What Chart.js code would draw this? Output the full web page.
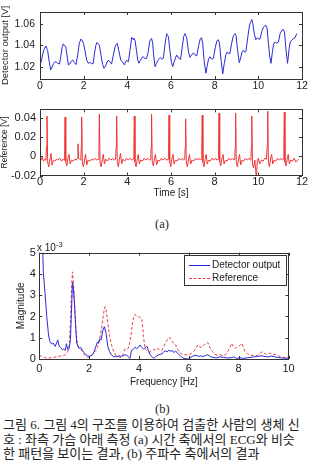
<!DOCTYPE html>
<html>
<head>
<meta charset="utf-8">
<script src="https://cdn.jsdelivr.net/npm/chart.js@4/dist/chart.umd.min.js"></script>
<style>
  html, body { margin:0; padding:0; background:#fff; }
  body { width:310px; height:465px; position:relative; overflow:hidden; font-family:"Liberation Sans", Arial, sans-serif; color:#222; }
  canvas { position:absolute; left:0; }
  .t { position:absolute; white-space:nowrap; }
  .serif { font-family:"Liberation Serif", "Noto Sans CJK KR", serif; }
  .cap { position:absolute; left:3px; white-space:nowrap; font-family:"Liberation Serif", "Noto Sans CJK KR", serif; font-size:13px; line-height:14.5px; color:#222; }
  #legend { position:absolute; left:184px; top:255px; width:101px; height:29px; border:1px solid #333; background:#fff; }
  #legend .row { position:absolute; left:0; height:12px; font-size:10px; line-height:12px; }
  #legend .ln { position:absolute; left:4px; width:21px; top:6px; height:0; }
  #legend .lbl { position:absolute; left:27px; top:0; white-space:nowrap; }
</style>
</head>
<body>
<canvas id="c1" width="310" height="100" style="top:0px"></canvas>
<canvas id="c2" width="310" height="100" style="top:100px"></canvas>
<canvas id="c3" width="310" height="150" style="top:240px"></canvas>

<div class="t serif" style="left:155px; top:217px; font-size:12.5px;">(a)</div>
<div class="t" style="left:37px; top:240px; font-size:10px;">x 10<sup style="font-size:7.5px; vertical-align:4px;">-3</sup></div>

<div id="legend">
  <div class="row" style="top:3px; width:100%;"><div class="ln" style="border-top:1px solid #2a2ad6;"></div><div class="lbl">Detector output</div></div>
  <div class="row" style="top:16px; width:100%;"><div class="ln" style="border-top:1px dashed #e8404a;"></div><div class="lbl">Reference</div></div>
</div>

<div class="t serif" style="left:155px; top:402px; font-size:12.5px;">(b)</div>
<div class="cap" style="top:418px;">그림 6. 그림 4의 구조를 이용하여 검출한 사람의 생체 신</div>
<div class="cap" style="top:432.5px;">호 : 좌측 가슴 아래 측정 (a) 시간 축에서의 ECG와 비슷</div>
<div class="cap" style="top:447px;">한 패턴을 보이는 결과, (b) 주파수 축에서의 결과</div>

<script>
// ---------- (a) top: detector output vs time ----------
const detTime = [0.00,0.06,0.12,0.18,0.24,0.27,0.31,0.35,0.42,0.49,0.55,0.62,0.69,0.76,0.83,0.89,0.95,1.01,1.07,1.12,1.18,1.24,1.30,1.36,1.43,1.50,1.57,1.65,1.72,1.80,1.88,1.94,1.99,2.06,2.14,2.21,2.30,2.37,2.44,2.50,2.56,2.60,2.66,2.72,2.80,2.87,2.93,3.00,3.07,3.13,3.20,3.28,3.35,3.44,3.50,3.54,3.60,3.66,3.70,3.78,3.85,3.89,3.96,4.05,4.12,4.20,4.26,4.30,4.35,4.42,4.48,4.53,4.60,4.67,4.73,4.80,4.88,4.95,5.03,5.11,5.16,5.21,5.27,5.33,5.42,5.50,5.58,5.65,5.72,5.80,5.85,5.88,5.95,6.02,6.08,6.15,6.22,6.26,6.35,6.44,6.52,6.58,6.64,6.68,6.72,6.80,6.87,6.95,7.02,7.10,7.18,7.27,7.34,7.40,7.45,7.52,7.60,7.66,7.72,7.79,7.86,7.94,8.03,8.10,8.17,8.22,8.30,8.37,8.44,8.51,8.58,8.64,8.70,8.78,8.86,8.93,8.98,9.05,9.13,9.20,9.26,9.31,9.38,9.43,9.52,9.60,9.66,9.70,9.75,9.82,9.89,9.96,10.02,10.08,10.16,10.24,10.30,10.35,10.40,10.46,10.52,10.58,10.64,10.70,10.76,10.84,10.92,11.00,11.08,11.14,11.20,11.27,11.34,11.40,11.46,11.53,11.60,11.68,11.76];
const detOut = [1.0216,1.0250,1.0310,1.0360,1.0385,1.0393,1.0370,1.0350,1.0250,1.0170,1.0195,1.0230,1.0247,1.0240,1.0230,1.0225,1.0290,1.0380,1.0413,1.0395,1.0386,1.0300,1.0216,1.0225,1.0250,1.0262,1.0240,1.0220,1.0300,1.0420,1.0458,1.0440,1.0418,1.0350,1.0260,1.0232,1.0240,1.0225,1.0232,1.0330,1.0400,1.0424,1.0415,1.0400,1.0300,1.0220,1.0185,1.0205,1.0240,1.0262,1.0245,1.0225,1.0300,1.0386,1.0410,1.0418,1.0360,1.0300,1.0262,1.0245,1.0220,1.0232,1.0260,1.0247,1.0350,1.0473,1.0455,1.0465,1.0448,1.0350,1.0260,1.0232,1.0260,1.0285,1.0293,1.0275,1.0278,1.0330,1.0440,1.0463,1.0420,1.0300,1.0200,1.0230,1.0265,1.0285,1.0270,1.0277,1.0400,1.0508,1.0490,1.0480,1.0350,1.0240,1.0200,1.0250,1.0290,1.0308,1.0280,1.0268,1.0390,1.0480,1.0508,1.0490,1.0470,1.0340,1.0287,1.0310,1.0329,1.0310,1.0300,1.0400,1.0460,1.0470,1.0420,1.0250,1.0139,1.0210,1.0270,1.0292,1.0270,1.0277,1.0380,1.0440,1.0452,1.0420,1.0250,1.0133,1.0230,1.0310,1.0338,1.0320,1.0324,1.0420,1.0490,1.0508,1.0490,1.0350,1.0237,1.0290,1.0340,1.0354,1.0335,1.0340,1.0480,1.0590,1.0620,1.0640,1.0600,1.0500,1.0452,1.0470,1.0455,1.0460,1.0530,1.0570,1.0580,1.0584,1.0560,1.0420,1.0300,1.0231,1.0330,1.0410,1.0430,1.0420,1.0430,1.0510,1.0540,1.0547,1.0520,1.0350,1.0231,1.0350,1.0430,1.0446,1.0460,1.0470,1.0508];
const timeTicks = [0,2,4,6,8,10,12];
const detTicks = [1.02,1.04,1.06];
const detTickLabels = ['1.02','1.04','1.06'];

// ---------- (a) bottom: ECG reference vs time ----------
const ecgTime = [0.00,0.05,0.10,0.16,0.22,0.27,0.30,0.32,0.35,0.40,0.46,0.50,0.55,0.61,0.68,0.75,0.82,0.90,0.98,1.05,1.10,1.13,1.15,1.18,1.23,1.29,1.33,1.38,1.44,1.52,1.60,1.66,1.71,1.74,1.76,1.82,1.87,1.89,1.91,1.94,1.99,2.05,2.09,2.14,2.20,2.28,2.36,2.44,2.52,2.60,2.66,2.70,2.72,2.75,2.80,2.86,2.90,2.95,3.01,3.09,3.17,3.25,3.33,3.40,3.46,3.49,3.51,3.54,3.59,3.65,3.69,3.74,3.80,3.88,3.96,4.04,4.12,4.20,4.27,4.30,4.32,4.35,4.40,4.46,4.50,4.55,4.61,4.69,4.77,4.85,4.93,5.01,5.07,5.09,5.11,5.14,5.19,5.25,5.29,5.34,5.40,5.48,5.56,5.64,5.72,5.80,5.87,5.89,5.91,5.94,5.99,6.05,6.09,6.14,6.20,6.28,6.36,6.44,6.52,6.58,6.63,6.65,6.67,6.70,6.75,6.81,6.85,6.90,6.96,7.04,7.12,7.20,7.28,7.35,7.39,7.41,7.43,7.46,7.51,7.57,7.61,7.66,7.72,7.80,7.88,7.96,8.04,8.11,8.16,8.18,8.20,8.23,8.28,8.34,8.38,8.43,8.49,8.57,8.65,8.73,8.81,8.88,8.92,8.94,8.96,8.99,9.04,9.10,9.14,9.19,9.25,9.33,9.41,9.49,9.57,9.63,9.66,9.68,9.70,9.73,9.78,9.84,9.88,9.91,9.95,10.00,10.06,10.14,10.22,10.30,10.37,10.41,10.43,10.46,10.51,10.57,10.61,10.66,10.72,10.80,10.88,10.96,11.04,11.11,11.15,11.17,11.19,11.22,11.27,11.33,11.37,11.42,11.48,11.56,11.64,11.72,11.80,11.85];
const ecgRef = [-0.002,-0.004,-0.001,-0.005,-0.003,-0.004,0.010,0.042,-0.006,-0.011,-0.002,0.003,-0.009,-0.004,-0.005,-0.003,-0.004,-0.002,-0.005,-0.003,-0.004,0.012,0.041,-0.005,-0.010,-0.001,0.002,-0.008,-0.004,-0.005,-0.003,-0.004,-0.002,0.013,-0.002,-0.003,-0.004,0.010,0.041,-0.007,-0.011,-0.002,0.002,-0.009,-0.004,-0.005,-0.003,-0.004,-0.002,-0.004,-0.003,0.010,0.044,-0.007,-0.011,-0.002,0.002,-0.008,-0.003,-0.005,-0.002,-0.004,-0.002,-0.004,-0.003,0.010,0.042,-0.006,-0.011,-0.001,0.003,-0.008,-0.003,-0.005,-0.002,-0.004,-0.002,-0.004,-0.003,0.010,0.042,-0.006,-0.011,-0.002,0.002,-0.008,-0.004,-0.005,-0.002,-0.004,-0.002,-0.004,-0.003,0.010,0.044,-0.006,-0.010,-0.001,0.002,-0.009,-0.004,-0.005,-0.002,-0.004,-0.002,-0.004,-0.003,0.012,0.043,-0.006,-0.011,-0.001,0.002,-0.008,-0.004,-0.005,-0.002,-0.004,-0.002,-0.004,-0.003,0.010,0.039,-0.006,-0.011,-0.002,0.002,-0.008,-0.004,-0.005,-0.002,-0.004,-0.002,-0.004,-0.003,0.010,0.043,-0.006,-0.011,-0.002,0.002,-0.008,-0.004,-0.005,-0.002,-0.004,-0.002,-0.004,-0.003,0.012,0.045,-0.006,-0.010,-0.001,0.002,-0.008,-0.004,-0.005,-0.002,-0.004,-0.002,-0.004,-0.003,0.010,0.045,-0.006,-0.011,-0.002,0.002,-0.009,-0.004,-0.005,-0.002,-0.004,-0.002,-0.004,-0.003,0.010,0.042,-0.008,-0.012,-0.004,-0.015,-0.022,-0.006,-0.002,-0.008,-0.004,-0.005,-0.002,-0.003,0.012,0.047,-0.006,-0.011,-0.001,0.002,-0.008,-0.004,-0.005,-0.002,-0.004,-0.002,-0.004,-0.003,0.012,0.046,-0.006,-0.010,-0.002,0.002,-0.008,-0.004,-0.005,-0.002,-0.006,-0.004,-0.003];
const ecgTicks = [-0.02,0,0.02,0.04];
const ecgTickLabels = ['-0.02','0','0.02','0.04'];

// ---------- (b) spectra (magnitude in units of 1e-3) ----------
const detFreq = [0.10,0.16,0.23,0.30,0.37,0.43,0.50,0.57,0.64,0.74,0.80,0.85,0.92,0.98,1.04,1.09,1.14,1.19,1.25,1.29,1.33,1.36,1.42,1.50,1.59,1.66,1.73,1.80,1.87,1.94,2.00,2.07,2.14,2.20,2.27,2.33,2.37,2.43,2.48,2.55,2.61,2.68,2.75,2.82,2.89,2.97,3.09,3.20,3.30,3.40,3.50,3.57,3.64,3.70,3.77,3.84,3.91,3.98,4.04,4.11,4.18,4.25,4.32,4.38,4.45,4.52,4.59,4.66,4.72,4.79,4.86,4.93,5.00,5.06,5.13,5.20,5.27,5.34,5.40,5.47,5.54,5.61,5.70,5.81,5.92,6.02,6.10,6.18,6.29,6.40,6.48,6.56,6.66,6.76,6.86,6.96,7.10,7.25,7.40,7.55,7.70,7.80,7.92,8.05,8.20,8.35,8.50,8.60,8.75,8.90,9.05,9.20,9.30,9.45,9.55,9.70,9.85,10.0];
const detMag = [7.0,4.1,3.08,2.0,1.13,0.81,0.70,0.74,0.59,0.90,0.60,0.55,0.45,0.47,0.40,0.72,0.45,0.47,0.91,2.2,3.6,3.4,2.46,0.74,0.50,0.55,0.40,0.30,0.20,0.15,0.12,0.15,0.20,0.35,0.59,0.80,0.74,0.95,0.90,1.36,1.52,1.20,0.59,0.35,0.20,0.12,0.10,0.15,0.12,0.18,0.20,0.10,0.03,0.40,0.45,0.55,0.50,0.55,0.66,0.55,0.47,0.52,0.60,0.40,0.20,0.10,0.03,0.10,0.15,0.20,0.22,0.24,0.35,0.38,0.33,0.42,0.36,0.40,0.30,0.38,0.28,0.20,0.10,0.02,0.01,0.00,0.10,0.15,0.18,0.12,0.15,0.11,0.16,0.20,0.12,0.08,0.05,0.10,0.08,0.05,0.06,0.10,0.03,0.05,0.03,0.06,0.08,0.10,0.12,0.15,0.12,0.10,0.14,0.10,0.08,0.05,0.04,0.03];
const refFreq = [0.00,0.05,0.10,0.20,0.30,0.40,0.50,0.57,0.70,0.85,0.95,1.05,1.12,1.19,1.25,1.29,1.33,1.36,1.39,1.46,1.55,1.66,1.73,1.80,1.87,1.93,2.00,2.07,2.15,2.27,2.35,2.41,2.48,2.55,2.60,2.64,2.68,2.72,2.77,2.82,2.89,2.95,3.02,3.09,3.20,3.30,3.37,3.43,3.50,3.57,3.62,3.67,3.72,3.77,3.84,3.91,3.98,4.05,4.11,4.15,4.18,4.25,4.31,4.38,4.45,4.52,4.60,4.66,4.72,4.80,4.86,4.93,5.00,5.06,5.13,5.18,5.23,5.28,5.34,5.40,5.47,5.54,5.61,5.70,5.81,5.92,6.02,6.10,6.22,6.30,6.36,6.42,6.49,6.56,6.63,6.70,6.76,6.81,6.86,6.95,7.04,7.15,7.25,7.38,7.48,7.58,7.65,7.72,7.78,7.85,7.92,7.99,8.06,8.13,8.20,8.26,8.35,8.47,8.60,8.74,8.84,8.94,9.00,9.08,9.18,9.28,9.38,9.49,9.60,9.69,9.80,9.90,10.00];
const refMag = [0.19,0.15,0.12,0.08,0.03,0.05,0.06,0.08,0.10,0.14,0.16,0.20,0.30,0.47,1.72,3.2,4.1,3.7,3.24,1.36,0.59,0.47,0.35,0.20,0.12,0.08,0.10,0.12,0.25,0.40,0.60,0.90,1.30,1.88,2.30,2.46,2.30,1.99,1.50,1.05,0.70,0.47,0.30,0.14,0.10,0.08,0.25,0.47,0.45,0.50,0.70,1.05,1.50,1.88,2.10,2.00,1.99,1.95,1.90,1.50,1.05,0.47,0.40,0.30,0.35,0.40,0.45,0.42,0.50,0.45,0.40,0.42,0.60,0.75,0.89,0.98,1.02,0.90,0.82,0.70,0.66,0.50,0.31,0.25,0.19,0.20,0.22,0.25,0.38,0.55,0.66,0.60,0.53,0.60,0.69,0.72,0.78,0.65,0.50,0.35,0.22,0.18,0.20,0.16,0.20,0.38,0.55,0.74,0.60,0.50,0.55,0.58,0.65,0.74,0.50,0.34,0.25,0.19,0.15,0.16,0.25,0.34,0.30,0.22,0.25,0.27,0.20,0.22,0.15,0.11,0.08,0.06,0.11];
const freqTicks = [0,2,4,6,8,10];
const magTicks = [0,1,2,3,4,5];

// ---------- helpers ----------
const pts = (xs, ys) => xs.map((x, i) => ({ x: x, y: ys[i] }));
const AXIS = '#333';
const TXT = '#222';
const FONT = '"Liberation Sans", Arial, sans-serif';

const boxTicks = {
  id: 'boxTicks',
  afterDatasetsDraw(chart) {
    const { ctx, chartArea: a, scales: { x, y } } = chart;
    ctx.save();
    ctx.strokeStyle = AXIS;
    ctx.lineWidth = 1;
    ctx.beginPath();
    x.ticks.forEach(t => {
      const p = Math.round(x.getPixelForValue(t.value)) + 0.5;
      ctx.moveTo(p, a.bottom); ctx.lineTo(p, a.bottom - 3);
      ctx.moveTo(p, a.top); ctx.lineTo(p, a.top + 3);
    });
    y.ticks.forEach(t => {
      const p = Math.round(y.getPixelForValue(t.value)) + 0.5;
      ctx.moveTo(a.left, p); ctx.lineTo(a.left + 3, p);
      ctx.moveTo(a.right, p); ctx.lineTo(a.right - 3, p);
    });
    ctx.stroke();
    ctx.strokeRect(Math.round(a.left) + 0.5, Math.round(a.top) + 0.5, Math.round(a.right - a.left), Math.round(a.bottom - a.top));
    ctx.restore();
  }
};

function makeChart(id, cfg) {
  const xs = {
    type: 'linear', min: cfg.xMin, max: cfg.xMax,
    grid: { display: false, drawTicks: false }, border: { display: false },
    ticks: { padding: cfg.xPad, color: TXT, font: { family: FONT, size: cfg.tickSize }, maxRotation: 0, autoSkip: false,
             callback: v => String(v) },
    afterBuildTicks: s => { s.ticks = cfg.xTicks.map(v => ({ value: v })); },
    afterFit: s => { s.height = cfg.xH; s.paddingLeft = 0; s.paddingRight = 0; },
    title: cfg.xTitle ? { display: true, text: cfg.xTitle, color: TXT, font: { family: FONT, size: 10, lineHeight: 1.2 }, padding: { top: 0, bottom: cfg.xTitlePad } } : { display: false }
  };
  const ys = {
    type: 'linear', min: cfg.yMin, max: cfg.yMax,
    grid: { display: false, drawTicks: false }, border: { display: false },
    ticks: { padding: cfg.yPad, color: TXT, font: { family: FONT, size: cfg.tickSize }, autoSkip: false,
             callback: (v, i) => cfg.yLabels ? cfg.yLabels[i] : String(v) },
    afterBuildTicks: s => { s.ticks = cfg.yTicks.map(v => ({ value: v })); },
    afterFit: s => { s.width = cfg.yW; s.paddingTop = 0; s.paddingBottom = 0; },
    title: { display: true, text: cfg.yTitle, color: TXT, font: { family: FONT, size: cfg.yTitleSize, lineHeight: 1 }, padding: { top: cfg.yTitlePad, bottom: 0 } }
  };
  return new Chart(document.getElementById(id), {
    type: 'line',
    data: { datasets: cfg.datasets },
    options: {
      responsive: false, animation: false, devicePixelRatio: 1,
      layout: { padding: cfg.pad },
      plugins: { legend: { display: false }, tooltip: { enabled: false } },
      elements: { point: { radius: 0 }, line: { tension: 0 } },
      scales: { x: xs, y: ys }
    },
    plugins: [boxTicks]
  });
}

// chart 1: detector output
makeChart('c1', {
  xMin: 0, xMax: 12, yMin: 1.0085, yMax: 1.071,
  xTicks: timeTicks, yTicks: detTicks, yLabels: detTickLabels,
  tickSize: 10.5, xPad: 1, yPad: 5, xH: 21, yW: 40,
  yTitle: 'Detector output [V]', yTitleSize: 9.5, yTitlePad: 1,
  pad: { top: 12, right: 8, left: 0, bottom: 0 },
  datasets: [{ data: pts(detTime, detOut), borderColor: '#2a2ad6', borderWidth: 1, fill: false }]
});

// chart 2: ECG reference
makeChart('c2', {
  xMin: 0, xMax: 12, yMin: -0.02, yMax: 0.049,
  xTicks: timeTicks, yTicks: ecgTicks, yLabels: ecgTickLabels,
  tickSize: 11, xPad: 0, yPad: 4, xH: 24.5, yW: 40,
  xTitle: 'Time [s]', xTitlePad: 1,
  yTitle: 'Reference [V]', yTitleSize: 8.5, yTitlePad: 0,
  pad: { top: 9.3, right: 8, left: 0, bottom: 0 },
  datasets: [{ data: pts(ecgTime, ecgRef), borderColor: '#ee3535', borderWidth: 1, fill: false }]
});

// chart 3: spectra
makeChart('c3', {
  xMin: 0, xMax: 10, yMin: 0, yMax: 5,
  xTicks: freqTicks, yTicks: magTicks, yLabels: null,
  tickSize: 11, xPad: 3, yPad: 3.5, xH: 31, yW: 39.3,
  xTitle: 'Frequency [Hz]', xTitlePad: 2,
  yTitle: 'Magnitude', yTitleSize: 10, yTitlePad: 16,
  pad: { top: 12.7, right: 21.5, left: 0, bottom: 0 },
  datasets: [
    { data: pts(detFreq, detMag), borderColor: '#2a2ad6', borderWidth: 1, fill: false },
    { data: pts(refFreq, refMag), borderColor: '#e8404a', borderWidth: 1, borderDash: [3, 2], fill: false }
  ]
});
</script>
</body>
</html>
